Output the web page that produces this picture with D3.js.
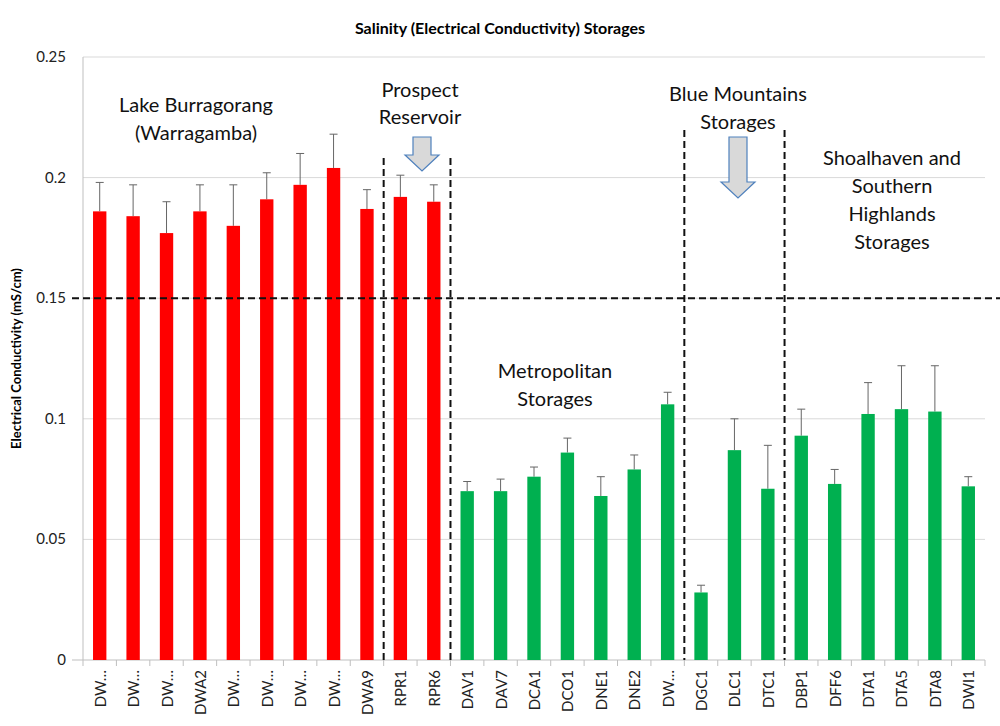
<!DOCTYPE html>
<html><head><meta charset="utf-8">
<script src="https://cdn.jsdelivr.net/npm/d3@7"></script>
<style>body{margin:0;background:#fff;font-family:Lato,"Open Sans",sans-serif}</style>
</head><body><div id="chart"></div>
<script>
// Data
const categories = ["DW…","DW…","DW…","DWA2","DW…","DW…","DW…","DW…","DWA9","RPR1","RPR6",
  "DAV1","DAV7","DCA1","DCO1","DNE1","DNE2","DW…","DGC1","DLC1","DTC1",
  "DBP1","DFF6","DTA1","DTA5","DTA8","DWI1"];
const means = [0.186,0.184,0.177,0.186,0.180,0.191,0.197,0.204,0.187,0.192,0.190,
  0.070,0.070,0.076,0.086,0.068,0.079,0.106,0.028,0.087,0.071,
  0.093,0.073,0.102,0.104,0.103,0.072];
const errTops = [0.198,0.197,0.190,0.197,0.197,0.202,0.210,0.218,0.195,0.201,0.197,
  0.074,0.075,0.080,0.092,0.076,0.085,0.111,0.031,0.100,0.089,
  0.104,0.079,0.115,0.122,0.122,0.076];
const redCount = 11;
const yTicks = [0,0.05,0.1,0.15,0.2,0.25];

const width = 1000, height = 726;
const svg = d3.select("#chart").append("svg").attr("width", width).attr("height", height);

const x = d3.scaleBand().domain(d3.range(categories.length)).range([83, 985]).paddingInner(0.6).paddingOuter(0.3);
const y = d3.scaleLinear().domain([0, 0.25]).range([660, 57]);
const step = x.step();
const edge = i => 83 + i * step;

// gridlines
svg.selectAll(".grid").data(yTicks.slice(1)).enter().append("line")
  .attr("x1", 83).attr("x2", 985).attr("y1", d => y(d)).attr("y2", d => y(d))
  .attr("stroke", "#d9d9d9");

// y axis
svg.append("line").attr("x1", 83).attr("x2", 83).attr("y1", y(0.25)).attr("y2", y(0)).attr("stroke", "#bfbfbf");
svg.selectAll(".yt").data(yTicks).enter().append("text")
  .attr("x", 66).attr("y", d => y(d) + 5).attr("text-anchor", "end")
  .attr("font-size", 15).attr("fill", "#222").text(d => d);

// x axis
svg.append("line").attr("x1", 72).attr("x2", 985).attr("y1", y(0)).attr("y2", y(0)).attr("stroke", "#bfbfbf");
svg.selectAll(".xt").data(d3.range(categories.length + 1)).enter().append("line")
  .attr("x1", edge).attr("x2", edge).attr("y1", y(0)).attr("y2", y(0) + 6).attr("stroke", "#bfbfbf");
svg.selectAll(".xl").data(categories).enter().append("text")
  .attr("transform", (d, i) => `translate(${x(i) + x.bandwidth() / 2 + 6},${y(0) + 10}) rotate(-90)`)
  .attr("text-anchor", "end").attr("font-size", 15).attr("fill", "#222").text(d => d);

// error bars
const eb = svg.selectAll(".eb").data(means).enter().append("g");
eb.append("line").attr("x1", (d, i) => x(i) + x.bandwidth() / 2).attr("x2", (d, i) => x(i) + x.bandwidth() / 2)
  .attr("y1", d => y(d)).attr("y2", (d, i) => y(errTops[i])).attr("stroke", "#666");
eb.append("line").attr("x1", (d, i) => x(i) + x.bandwidth() / 2 - 4).attr("x2", (d, i) => x(i) + x.bandwidth() / 2 + 4)
  .attr("y1", (d, i) => y(errTops[i])).attr("y2", (d, i) => y(errTops[i])).attr("stroke", "#666");

// bars
svg.selectAll(".bar").data(means).enter().append("rect")
  .attr("x", (d, i) => x(i)).attr("width", x.bandwidth())
  .attr("y", d => y(d)).attr("height", d => y(0) - y(d))
  .attr("fill", (d, i) => i < redCount ? "#ff0000" : "#00b050");

// dashed reference lines
const dash = {stroke: "#111", "stroke-width": 2, "stroke-dasharray": "7,4"};
function dline(x1, y1, x2, y2) {
  const l = svg.append("line").attr("x1", x1).attr("y1", y1).attr("x2", x2).attr("y2", y2);
  Object.entries(dash).forEach(([k, v]) => l.attr(k, v));
}
dline(72, y(0.15), 1000, y(0.15));
dline(edge(9), 158, edge(9), 660);
dline(edge(11), 158, edge(11), 660);
dline(edge(18), 130, edge(18), 660);
dline(edge(21), 130, edge(21), 660);

// arrows
function arrow(cx, top, bottom) {
  const sw = 9, hw = 17, hh = 16;
  const p = [[cx - sw, top], [cx + sw, top], [cx + sw, bottom - hh], [cx + hw, bottom - hh], [cx, bottom],
    [cx - hw, bottom - hh], [cx - sw, bottom - hh]];
  svg.append("polygon").attr("points", p.map(q => q.join(",")).join(" "))
    .attr("fill", "#d9d9d9").attr("stroke", "#4f81bd").attr("stroke-width", 1.2);
}
arrow(422, 137, 171);
arrow(738, 137, 198);

// labels
function label(lines, cx, y0, lh) {
  lines.forEach((t, k) => svg.append("text").attr("x", cx).attr("y", y0 + k * lh)
    .attr("text-anchor", "middle").attr("font-size", 20).attr("fill", "#111").text(t));
}
label(["Lake Burragorang", "(Warragamba)"], 196, 112, 28);
label(["Prospect", "Reservoir"], 420, 97, 27);
label(["Metropolitan", "Storages"], 555, 378, 28);
label(["Blue Mountains", "Storages"], 738, 101, 28);
label(["Shoalhaven and", "Southern", "Highlands", "Storages"], 892, 165, 28);

// titles
svg.append("text").attr("x", 500).attr("y", 34).attr("text-anchor", "middle")
  .attr("font-size", 16).attr("font-weight", "bold").text("Salinity (Electrical Conductivity) Storages");
svg.append("text").attr("transform", `translate(21,${y(0.125)}) rotate(-90)`).attr("text-anchor", "middle")
  .attr("font-size", 13).attr("font-weight", "bold").text("Electrical Conductivity (mS/cm)");
</script></body></html>
